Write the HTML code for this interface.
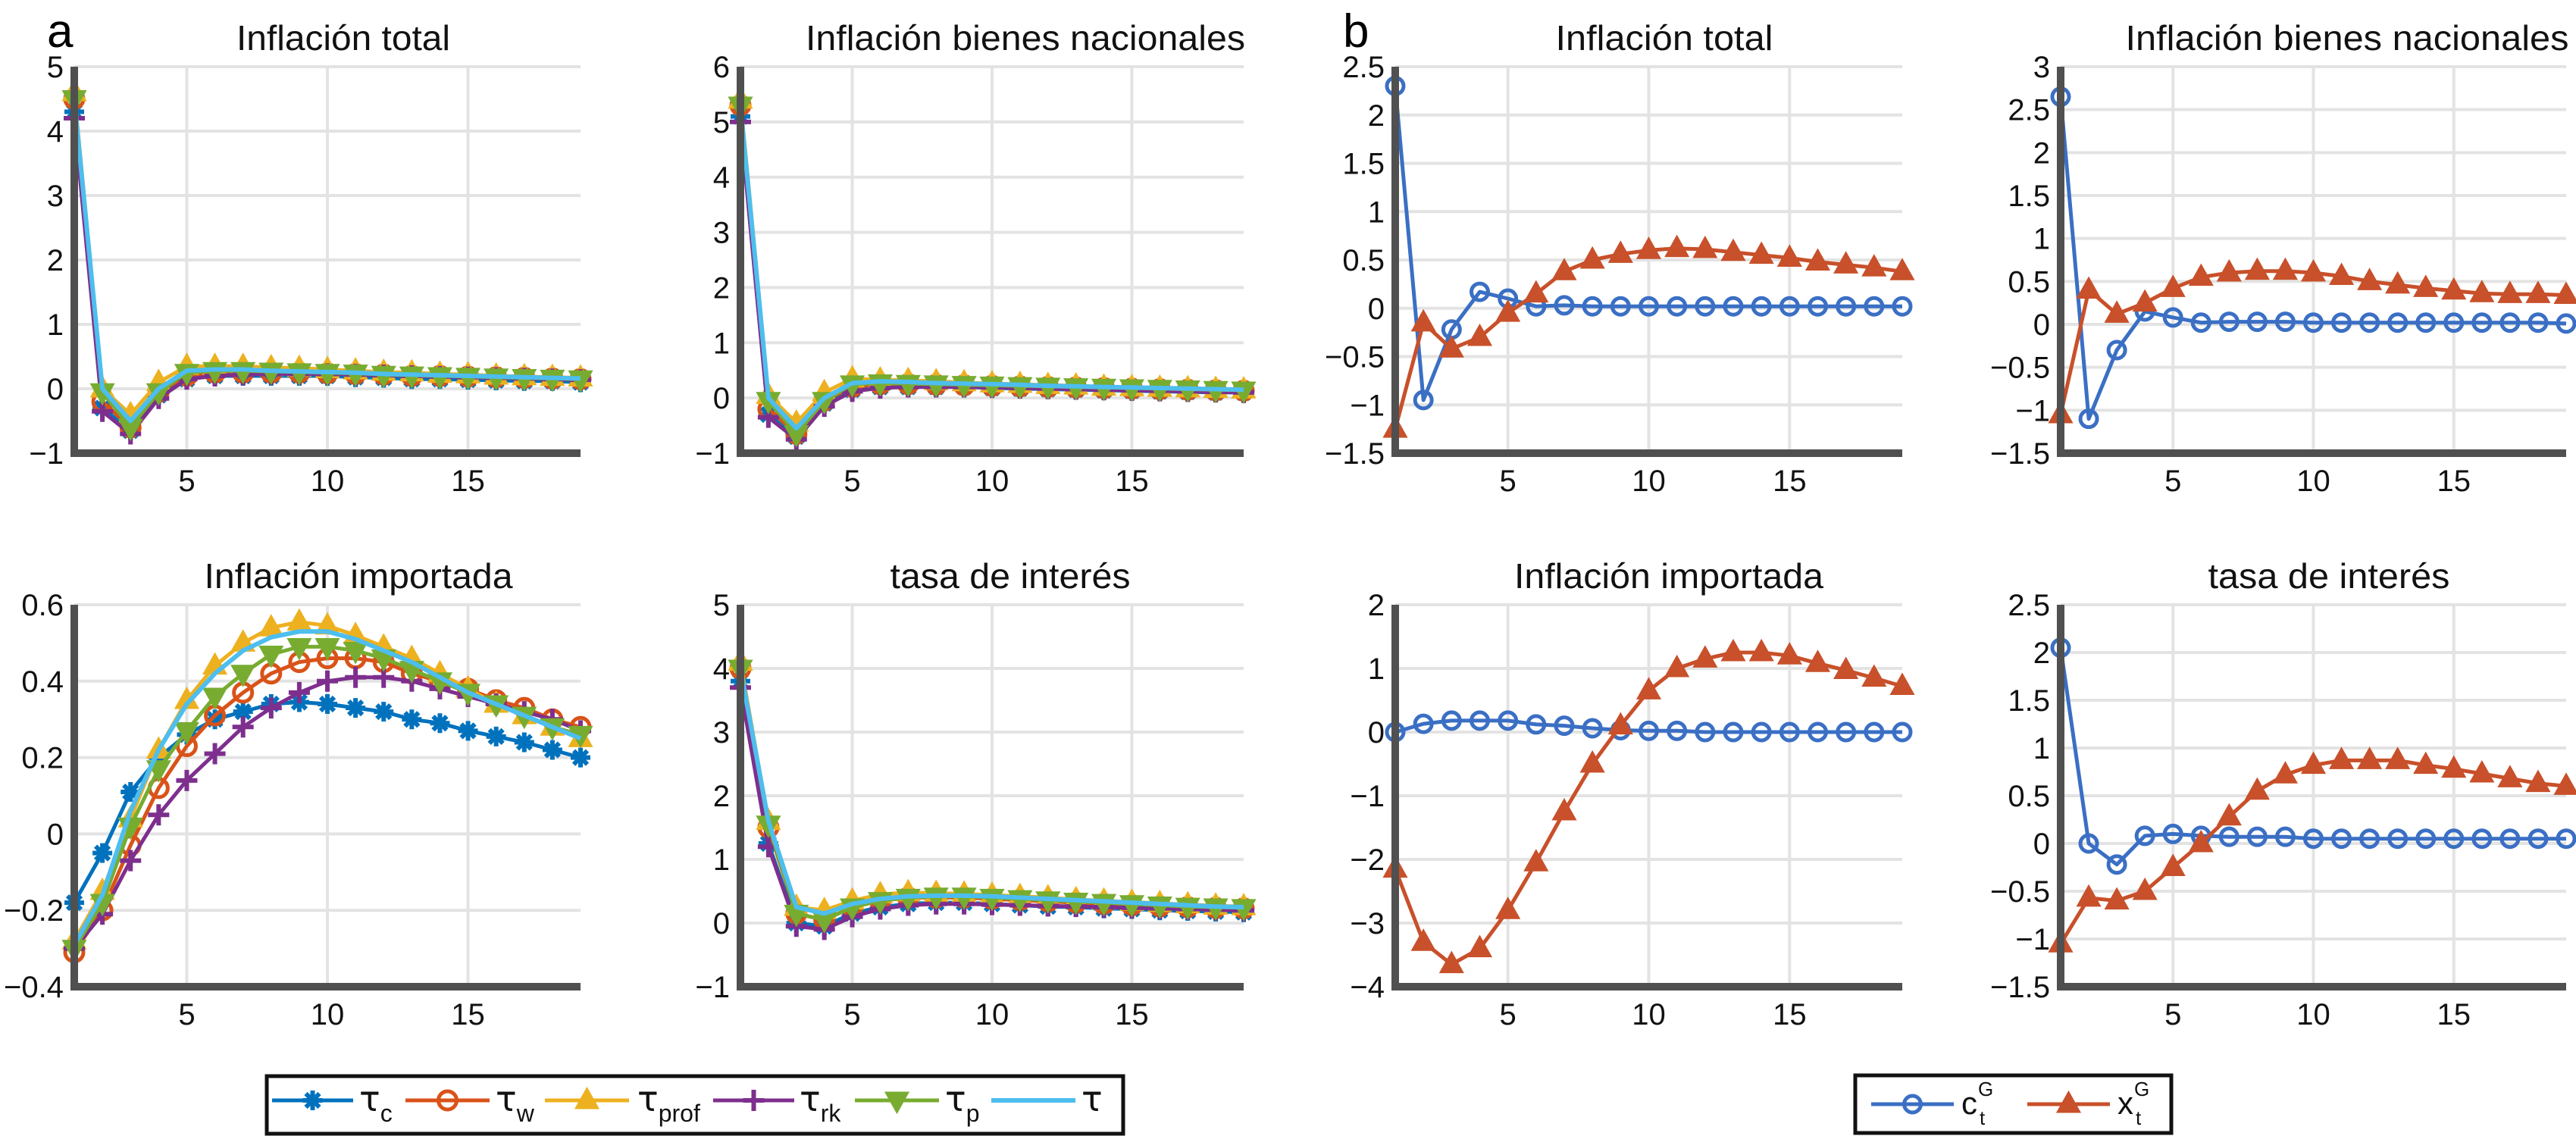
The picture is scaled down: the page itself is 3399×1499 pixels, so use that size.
<!DOCTYPE html>
<html><head><meta charset="utf-8">
<style>
html,body{margin:0;padding:0;background:#fff;}
svg{display:block;font-family:"Liberation Sans Narrow","Liberation Sans",sans-serif;}
</style></head>
<body>
<svg id="chart" width="3399" height="1499" viewBox="0 0 3399 1499" xmlns="http://www.w3.org/2000/svg">
<text x="62" y="62" font-size="62" font-family="Liberation Sans, sans-serif">a</text>
<text x="1772" y="62" font-size="62" font-family="Liberation Sans, sans-serif">b</text>
</svg>
<script>
const xs = [1,2,3,4,5,6,7,8,9,10,11,12,13,14,15,16,17,18,19];
const xTicks = [5,10,15];
// Panel a1: Inflación total
const a1_c    = [4.3,-0.3,-0.65,-0.1,0.15,0.2,0.2,0.2,0.2,0.2,0.18,0.17,0.15,0.15,0.14,0.13,0.12,0.12,0.1];
const a1_w    = [4.5,-0.2,-0.6,-0.05,0.2,0.25,0.25,0.25,0.25,0.24,0.23,0.22,0.2,0.2,0.19,0.18,0.17,0.16,0.15];
const a1_prof = [4.6,0,-0.4,0.1,0.35,0.35,0.35,0.33,0.32,0.3,0.28,0.26,0.25,0.23,0.22,0.2,0.19,0.18,0.17];
const a1_rk   = [4.2,-0.35,-0.7,-0.15,0.15,0.2,0.22,0.23,0.23,0.23,0.22,0.21,0.2,0.19,0.18,0.17,0.16,0.15,0.14];
const a1_p    = [4.5,-0.05,-0.6,-0.05,0.25,0.28,0.28,0.27,0.26,0.25,0.24,0.22,0.21,0.2,0.19,0.18,0.17,0.16,0.15];
const a1_tau  = [4.5,0,-0.5,0,0.28,0.3,0.3,0.28,0.27,0.26,0.25,0.23,0.22,0.21,0.2,0.19,0.18,0.17,0.16];
// Panel a2: Inflación bienes nacionales
const a2_c    = [5.1,-0.3,-0.7,-0.1,0.15,0.2,0.2,0.2,0.2,0.18,0.17,0.16,0.15,0.14,0.13,0.12,0.11,0.1,0.1];
const a2_w    = [5.3,-0.2,-0.65,-0.05,0.2,0.25,0.25,0.24,0.23,0.22,0.21,0.2,0.19,0.18,0.17,0.16,0.15,0.14,0.13];
const a2_prof = [5.4,0.05,-0.45,0.1,0.35,0.33,0.32,0.3,0.28,0.26,0.25,0.23,0.22,0.2,0.19,0.18,0.17,0.16,0.15];
const a2_rk   = [5.0,-0.35,-0.75,-0.15,0.12,0.18,0.2,0.2,0.2,0.19,0.18,0.17,0.16,0.15,0.14,0.13,0.12,0.11,0.1];
const a2_p    = [5.3,-0.05,-0.65,-0.05,0.25,0.27,0.26,0.25,0.24,0.23,0.22,0.21,0.2,0.19,0.18,0.17,0.16,0.15,0.14];
const a2_tau  = [5.3,0,-0.55,0,0.27,0.3,0.29,0.27,0.26,0.25,0.24,0.22,0.21,0.2,0.19,0.18,0.17,0.16,0.15];
// Panel a3: Inflación importada
const a3_c    = [-0.18,-0.05,0.11,0.2,0.26,0.3,0.32,0.34,0.345,0.34,0.33,0.32,0.3,0.29,0.27,0.255,0.24,0.22,0.2];
const a3_w    = [-0.31,-0.2,-0.03,0.12,0.23,0.31,0.37,0.42,0.45,0.46,0.46,0.45,0.42,0.4,0.38,0.35,0.33,0.3,0.28];
const a3_prof = [-0.28,-0.15,0.04,0.22,0.35,0.44,0.5,0.54,0.555,0.545,0.52,0.49,0.46,0.42,0.38,0.34,0.31,0.28,0.25];
const a3_rk   = [-0.3,-0.21,-0.07,0.05,0.14,0.21,0.28,0.33,0.37,0.4,0.41,0.41,0.4,0.38,0.36,0.34,0.32,0.3,0.27];
const a3_p    = [-0.3,-0.18,0.02,0.17,0.27,0.36,0.42,0.47,0.49,0.49,0.48,0.46,0.43,0.4,0.37,0.34,0.31,0.28,0.26];
const a3_tau  = [-0.29,-0.16,0.06,0.22,0.34,0.42,0.48,0.515,0.53,0.53,0.51,0.48,0.45,0.41,0.37,0.34,0.31,0.28,0.25];
// Panel a4: tasa de interés
const a4_c    = [3.8,1.25,0,-0.05,0.15,0.25,0.3,0.32,0.32,0.3,0.28,0.26,0.25,0.23,0.22,0.2,0.19,0.18,0.17];
const a4_w    = [4.0,1.5,0.15,0.05,0.25,0.35,0.4,0.4,0.4,0.38,0.36,0.34,0.32,0.3,0.28,0.26,0.25,0.24,0.23];
const a4_prof = [4.1,1.6,0.25,0.2,0.35,0.45,0.48,0.47,0.46,0.44,0.42,0.4,0.37,0.35,0.33,0.31,0.29,0.27,0.26];
const a4_rk   = [3.7,1.2,-0.05,-0.1,0.1,0.22,0.28,0.3,0.3,0.29,0.28,0.27,0.26,0.25,0.24,0.23,0.22,0.21,0.2];
const a4_p    = [4.0,1.55,0.15,0.05,0.25,0.35,0.4,0.42,0.42,0.4,0.38,0.36,0.34,0.32,0.3,0.28,0.26,0.25,0.24];
const a4_tau  = [4.0,1.6,0.25,0.15,0.3,0.38,0.42,0.43,0.43,0.42,0.4,0.38,0.36,0.34,0.32,0.3,0.28,0.26,0.25];
// Panels b
const b1_c = [2.3,-0.95,-0.22,0.17,0.1,0.02,0.03,0.02,0.02,0.02,0.02,0.02,0.02,0.02,0.02,0.02,0.02,0.02,0.02];
const b1_x = [-1.25,-0.15,-0.42,-0.3,-0.05,0.15,0.38,0.5,0.56,0.6,0.62,0.61,0.58,0.55,0.52,0.48,0.45,0.42,0.38];
const b2_c = [2.65,-1.1,-0.3,0.15,0.08,0.02,0.03,0.03,0.03,0.02,0.02,0.02,0.02,0.02,0.02,0.02,0.02,0.02,0.01];
const b2_x = [-1.05,0.4,0.12,0.25,0.42,0.55,0.6,0.62,0.62,0.6,0.56,0.5,0.46,0.42,0.39,0.36,0.35,0.35,0.34];
const b3_c = [0,0.13,0.18,0.18,0.18,0.12,0.1,0.06,0.03,0.02,0.02,0,0,0,0,0,0,0,0];
const b3_x = [-2.15,-3.3,-3.65,-3.4,-2.8,-2.05,-1.25,-0.5,0.1,0.65,1.0,1.15,1.25,1.25,1.2,1.08,0.97,0.85,0.72];
const b4_c = [2.05,0,-0.22,0.08,0.1,0.08,0.07,0.07,0.07,0.05,0.05,0.05,0.05,0.05,0.05,0.05,0.05,0.05,0.05];
const b4_x = [-1.05,-0.57,-0.6,-0.5,-0.25,0,0.28,0.55,0.72,0.82,0.87,0.87,0.87,0.82,0.78,0.73,0.68,0.63,0.6];

const a1_yTicks = [-1,0,1,2,3,4,5];
const a2_yTicks = [-1,0,1,2,3,4,5,6];
const a3_yTicks = [-0.4,-0.2,0,0.2,0.4,0.6];
const a4_yTicks = [-1,0,1,2,3,4,5];
const b1_yTicks = [-1.5,-1,-0.5,0,0.5,1,1.5,2,2.5];
const b2_yTicks = [-1.5,-1,-0.5,0,0.5,1,1.5,2,2.5,3];
const b3_yTicks = [-4,-3,-2,-1,0,1,2];
const b4_yTicks = [-1.5,-1,-0.5,0,0.5,1,1.5,2,2.5];

const NS = "http://www.w3.org/2000/svg";
const svg = document.getElementById('chart');
const C = {c:'#0072BD', w:'#D95319', prof:'#EDB120', rk:'#7E2F8E', p:'#77AC30', tau:'#4DBEEE', cg:'#3A6FC4', xg:'#C8502A'};
function mk(tag, attrs, parent){const e=document.createElementNS(NS,tag);for(const k in attrs)e.setAttribute(k,attrs[k]);(parent||svg).appendChild(e);return e;}
function fmt(v){const s=(Math.round(v*10)/10).toString();return v<0?'\u2212'+s.slice(1):s;}

function marker(g, type, cx, cy, color){
  const r=12;let m;
  if(type==='circle'){m=mk('circle',{cx:cx,cy:cy,r:r,fill:'none',stroke:color,'stroke-width':5},g);}
  else if(type==='ocircle'){m=mk('circle',{cx:cx,cy:cy,r:11,fill:'none',stroke:color,'stroke-width':5},g);}
  else if(type==='tri'){m=mk('path',{d:`M${cx},${cy-15}L${cx+14},${cy+10}L${cx-14},${cy+10}Z`,fill:color,stroke:color,'stroke-width':3},g);}
  else if(type==='trid'){m=mk('path',{d:`M${cx},${cy+15}L${cx+14},${cy-10}L${cx-14},${cy-10}Z`,fill:color,stroke:color,'stroke-width':3},g);}
  else if(type==='plus'){m=mk('path',{d:`M${cx-14},${cy}H${cx+14}M${cx},${cy-14}V${cy+14}`,stroke:color,'stroke-width':6,fill:'none'},g);}
  else if(type==='star'){m=mk('path',{d:`M${cx-13},${cy}H${cx+13}M${cx},${cy-13}V${cy+13}M${cx-9},${cy-9}L${cx+9},${cy+9}M${cx-9},${cy+9}L${cx+9},${cy-9}`,stroke:color,'stroke-width':6,fill:'none'},g);}
  else return;
  
  
}

function panel(id, x0, x1, y0, y1, ymin, ymax, yTicks, title, tcx, tlen, series){
  const g=mk('g',{});
  
  
  const sx=v=>x0+(v-1)/(19-1)*(x1-x0);
  const sy=v=>y1-(v-ymin)/(ymax-ymin)*(y1-y0);
  // grid
  yTicks.forEach(t=>{const l=mk('line',{x1:x0,x2:x1,y1:sy(t),y2:sy(t),stroke:'#e3e3e3','stroke-width':4},g);
    
    });
  xTicks.forEach(t=>{const l=mk('line',{x1:sx(t),x2:sx(t),y1:y0,y2:y1,stroke:'#e3e3e3','stroke-width':4},g);
    
    });
  // series
  series.forEach(s=>{
    const sg=mk('g',{},g);
    
    
    const d=s.data.map((v,i)=>(i?'L':'M')+sx(xs[i]).toFixed(1)+','+sy(v).toFixed(1)).join('');
    const p=mk('path',{d:d,fill:'none',stroke:s.color,'stroke-width':s.lw||5,'stroke-linejoin':'round'},sg);
    
    
    s.data.forEach((v,i)=>marker(sg,s.marker,sx(xs[i]),sy(v),s.color));
  });
  // axes
  const ax=mk('path',{d:`M${x0},${y0}V${y1}H${x1}`,fill:'none',stroke:'#505050','stroke-width':10},g);
  
  
  yTicks.forEach(t=>{const tx=mk('text',{x:x0-14,y:sy(t)+14,'font-size':40,'text-anchor':'end',fill:'#111'},g);tx.textContent=fmt(t);
    
    });
  xTicks.forEach(t=>{const tx=mk('text',{x:sx(t),y:y1+50,'font-size':40,'text-anchor':'middle',fill:'#111'},g);tx.textContent=t;
    
    });
  const tt=mk('text',{x:tcx,y:y0-22,'font-size':46,'text-anchor':'middle',fill:'#111',textLength:tlen,lengthAdjust:'spacingAndGlyphs'},g);
  tt.textContent=title;
  
  
}
function aSeries(c,w,prof,rk,p,tau){return [
  {name:'tau-c',data:c,color:C.c,marker:'star'},
  {name:'tau-w',data:w,color:C.w,marker:'circle'},
  {name:'tau-prof',data:prof,color:C.prof,marker:'tri'},
  {name:'tau-rk',data:rk,color:C.rk,marker:'plus'},
  {name:'tau-p',data:p,color:C.p,marker:'trid'},
  {name:'tau',data:tau,color:C.tau,marker:'none',lw:6}];}
function bSeries(c,x){return [
  {name:'c-g',data:c,color:C.cg,marker:'ocircle'},
  {name:'x-g',data:x,color:C.xg,marker:'tri'}];}

const T1=88,B1=598,T2=798,B2=1302;
panel('panel-a-inflacion-total',98,766,T1,B1,-1,5,a1_yTicks,'Inflación total',453,282,aSeries(a1_c,a1_w,a1_prof,a1_rk,a1_p,a1_tau));
panel('panel-a-inflacion-bienes',977,1641,T1,B1,-1,6,a2_yTicks,'Inflación bienes nacionales',1353,580,aSeries(a2_c,a2_w,a2_prof,a2_rk,a2_p,a2_tau));
panel('panel-a-inflacion-importada',98,766,T2,B2,-0.4,0.6,a3_yTicks,'Inflación importada',473,407,aSeries(a3_c,a3_w,a3_prof,a3_rk,a3_p,a3_tau));
panel('panel-a-tasa-interes',977,1641,T2,B2,-1,5,a4_yTicks,'tasa de interés',1333,317,aSeries(a4_c,a4_w,a4_prof,a4_rk,a4_p,a4_tau));
panel('panel-b-inflacion-total',1841,2510,T1,B1,-1.5,2.5,b1_yTicks,'Inflación total',2196,287,bSeries(b1_c,b1_x));
panel('panel-b-inflacion-bienes',2719,3386,T1,B1,-1.5,3,b2_yTicks,'Inflación bienes nacionales',3097,585,bSeries(b2_c,b2_x));
panel('panel-b-inflacion-importada',1841,2510,T2,B2,-4,2,b3_yTicks,'Inflación importada',2202,408,bSeries(b3_c,b3_x));
panel('panel-b-tasa-interes',2719,3386,T2,B2,-1.5,2.5,b4_yTicks,'tasa de interés',3073,319,bSeries(b4_c,b4_x));

// Legend a
const la=mk('g',{});


mk('rect',{x:352,y:1420,width:1130,height:76,fill:'#fff',stroke:'#111','stroke-width':5},la);
const legA=[['star',C.c,359,466,474,'c'],['circle',C.w,535,646,654,'w'],['tri',C.prof,719,830,841,'prof'],['plus',C.rk,941,1048,1055,'rk'],['trid',C.p,1128,1239,1247,'p'],['none',C.tau,1308,1419,1427,'']];
legA.forEach(e=>{
  const g=mk('g',{},la);
  
  
  mk('line',{x1:e[2],x2:e[3],y1:1452,y2:1452,stroke:e[1],'stroke-width':e[0]==='none'?6:5},g);
  marker(g,e[0],(e[2]+e[3])/2,1452,e[1]);
  const t=mk('text',{x:e[4],y:1466,'font-size':46,fill:'#111','font-family':'DejaVu Sans, sans-serif'},g);
  t.textContent='τ';
  if(e[5]){const s=mk('tspan',{dy:14,'font-size':32,'font-family':'Liberation Sans Narrow, Liberation Sans, sans-serif'},t);s.textContent=e[5];}
});
// Legend b
const lb=mk('g',{});


mk('rect',{x:2448,y:1419,width:417,height:76,fill:'#fff',stroke:'#111','stroke-width':5},lb);
const legB=[['ocircle',C.cg,2469,2578,2588,'c'],['tri',C.xg,2675,2784,2794,'x']];
legB.forEach(e=>{
  const g=mk('g',{},lb);
  
  
  mk('line',{x1:e[2],x2:e[3],y1:1457,y2:1457,stroke:e[1],'stroke-width':5},g);
  marker(g,e[0],(e[2]+e[3])/2,1457,e[1]);
  const t=mk('text',{x:e[4],y:1470,'font-size':42,fill:'#111'},g);
  t.textContent=e[5];
  const sup=mk('text',{x:e[4]+22,y:1446,'font-size':26,fill:'#111'},g);sup.textContent='G';
  const sub=mk('text',{x:e[4]+24,y:1484,'font-size':26,fill:'#111'},g);sub.textContent='t';
});
</script>
</body></html>
